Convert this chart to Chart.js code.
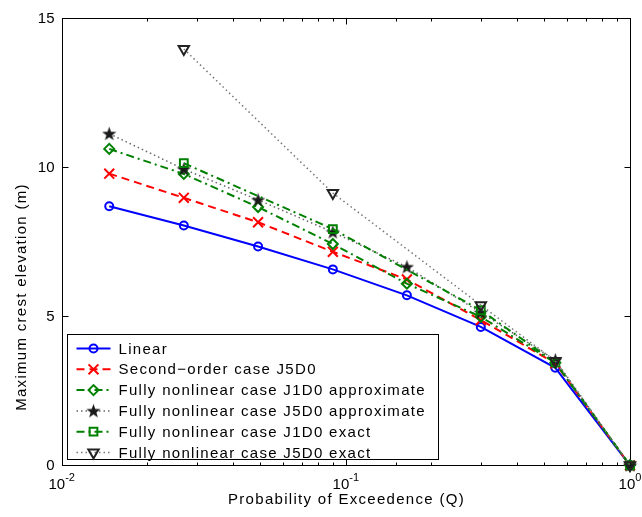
<!DOCTYPE html>
<html>
<head>
<meta charset="utf-8">
<script src="https://cdn.jsdelivr.net/npm/chart.js@4.4.0/dist/chart.umd.min.js"></script>
<style>
html, body { margin: 0; padding: 0; background: #fff; }
#wrap { width: 642px; height: 517px; }
</style>
</head>
<body>
<div id="wrap"><canvas id="chart"></canvas></div>
<script>
// probability of exceedence for each run
qAll = [0.0147, 0.0269, 0.0491, 0.0900, 0.164, 0.2985, 0.546, 1]
qExact = [0.0269, 0.0900, 0.2985, 0.546, 1]

// maximum crest elevation (m)
linear = [8.69, 8.04, 7.34, 6.57, 5.70, 4.64, 3.27, 0]
secondOrder = [9.78, 8.97, 8.15, 7.16, 6.23, 4.87, 3.42, 0]
j1d0Approx = [10.61, 9.77, 8.66, 7.42, 6.09, 4.98, 3.44, 0]
j5d0Approx = [11.12, 9.93, 8.90, 7.82, 6.65, 5.12, 3.53, 0]
j1d0Exact = [10.13, 7.92, 5.20, 3.45, 0]
j5d0Exact = [13.96, 9.13, 5.37, 3.50, 0]

seriesNames = ["Linear", "Second\u2212order case J5D0", "Fully nonlinear case J1D0 approximate",
	"Fully nonlinear case J5D0 approximate", "Fully nonlinear case J1D0 exact", "Fully nonlinear case J5D0 exact"]

xTitle = "Probability of Exceedence (Q)"
yTitle = "Maximum crest elevation (m)"
xTickValues = [0.01, 0.1, 1]
xTickExponents = ["-2", "-1", "0"]
yTickValues = [0, 5, 10, 15]

FONT = "'Liberation Sans', Arial, Helvetica, sans-serif"
SPACING = "1.3px"

function pairs(xs, ys) {
	var out = []
	for (var i = 0; i < xs.length; i++) out.push({x: xs[i], y: ys[i]})
	return out
}

// filled pentagram marker
function starImage(size, color) {
	var c = document.createElement("canvas")
	c.width = size; c.height = size
	var g = c.getContext("2d")
	g.fillStyle = color
	g.beginPath()
	for (var i = 0; i < 10; i++) {
		var r = i % 2 ? size * 0.2 : size * 0.5
		var a = -Math.PI / 2 + i * Math.PI / 5
		g.lineTo(size / 2 + r * Math.cos(a), size / 2 + 0.5 + r * Math.sin(a))
	}
	g.closePath()
	g.fill()
	return c
}

var star = starImage(15, "#1a1a1a")
var none = "rgba(0,0,0,0)"

function series(i, xs, ys, color, dash, width, style, radius, rot, fill) {
	return {
		label: seriesNames[i],
		data: pairs(xs, ys),
		borderColor: color,
		borderWidth: width,
		borderDash: dash,
		backgroundColor: fill || none,
		pointStyle: style,
		pointRadius: radius,
		pointRotation: rot || 0,
		pointBorderColor: style === "triangle" ? "#222" : color,
		pointBorderWidth: 2,
		pointBackgroundColor: fill || none,
		tension: 0,
		clip: false,
		order: 6 - i
	}
}

var datasets = [
	series(0, qAll, linear, "#0000ff", [], 2, "circle", 4),
	series(1, qAll, secondOrder, "#ff0000", [8, 5], 2, "crossRot", 7),
	series(2, qAll, j1d0Approx, "#008000", [8, 4, 2, 4], 2, "rectRot", 5),
	series(3, qAll, j5d0Approx, "#666666", [1.5, 3], 1.5, star, 7),
	series(4, qExact, j1d0Exact, "#008000", [8, 4, 2, 4], 2, "rect", 5.5),
	series(5, qExact, j5d0Exact, "#777777", [1.5, 3], 1.5, "triangle", 6, 180)
]

// axes box with inward ticks on all four sides, tick labels and titles
var boxPlugin = {
	id: "box",
	beforeDatasetsDraw: function (chart) {
		var ctx = chart.ctx, a = chart.chartArea, xs = chart.scales.x, ys = chart.scales.y
		ctx.save()
		ctx.strokeStyle = "#000"
		ctx.lineWidth = 1
		var L = Math.round(a.left) + 0.5, R = Math.round(a.right) + 0.5
		var T = Math.round(a.top) + 0.5, B = Math.round(a.bottom) + 0.5
		ctx.strokeRect(L, T, R - L, B - T)
		ctx.beginPath()
		xs.ticks.forEach(function (t) {
			var lg = Math.log10(t.value)
			var major = Math.abs(lg - Math.round(lg)) < 1e-6
			var len = major ? 6 : 3
			var px = Math.round(xs.getPixelForValue(t.value)) + 0.5
			ctx.moveTo(px, B); ctx.lineTo(px, B - len)
			ctx.moveTo(px, T); ctx.lineTo(px, T + len)
		})
		yTickValues.forEach(function (v) {
			var py = Math.round(ys.getPixelForValue(v)) + 0.5
			ctx.moveTo(L, py); ctx.lineTo(L + 6, py)
			ctx.moveTo(R, py); ctx.lineTo(R - 6, py)
		})
		ctx.stroke()

		ctx.fillStyle = "#000"
		ctx.textBaseline = "alphabetic"
		ctx.letterSpacing = "0px"
		// y tick labels
		ctx.font = "15px " + FONT
		ctx.textAlign = "right"
		ctx.textBaseline = "middle"
		yTickValues.forEach(function (v) {
			ctx.fillText(String(v), L - 8, ys.getPixelForValue(v) + 1)
		})
		// x tick labels as powers of ten
		ctx.textBaseline = "alphabetic"
		ctx.textAlign = "left"
		xTickValues.forEach(function (v, i) {
			var px = xs.getPixelForValue(v)
			ctx.font = "15px " + FONT
			var wb = ctx.measureText("10").width
			ctx.font = "11px " + FONT
			var we = ctx.measureText(xTickExponents[i]).width
			var x0 = px - (wb + we) / 2
			ctx.font = "15px " + FONT
			ctx.fillText("10", x0, B + 23)
			ctx.font = "11px " + FONT
			ctx.fillText(xTickExponents[i], x0 + wb, B + 15)
		})
		// axis titles
		ctx.font = "15px " + FONT
		ctx.letterSpacing = SPACING
		ctx.textAlign = "center"
		ctx.fillText(xTitle, (L + R) / 2, 504)
		ctx.save()
		ctx.translate(26, 297)
		ctx.rotate(-Math.PI / 2)
		ctx.fillText(yTitle, 0, 0)
		ctx.restore()
		ctx.restore()
	}
}

// legend box in the lower left of the plot
var legendPlugin = {
	id: "boxLegend",
	afterDraw: function (chart) {
		var ctx = chart.ctx, a = chart.chartArea
		var left = Math.round(a.left) + 5.5, top = 334.5, w = 371, h = 125
		ctx.save()
		ctx.fillStyle = "#fff"
		ctx.fillRect(left, top, w, h)
		ctx.strokeStyle = "#000"
		ctx.lineWidth = 1
		ctx.strokeRect(left, top, w, h)
		chart.data.datasets.forEach(function (ds, i) {
			var y = top + 14 + i * 20.8
			ctx.save()
			ctx.strokeStyle = ds.borderColor
			ctx.lineWidth = ds.borderWidth
			ctx.setLineDash(ds.borderDash)
			ctx.beginPath()
			ctx.moveTo(left + 9, y); ctx.lineTo(left + 43, y)
			ctx.stroke()
			ctx.setLineDash([])
			ctx.strokeStyle = ds.pointBorderColor
			ctx.fillStyle = ds.pointBackgroundColor
			ctx.lineWidth = 2
			Chart.helpers.drawPoint(ctx, {
				pointStyle: ds.pointStyle, rotation: ds.pointRotation,
				radius: ds.pointRadius, borderWidth: 2
			}, left + 26, y)
			ctx.restore()
			ctx.fillStyle = "#000"
			ctx.font = "15px " + FONT
			ctx.letterSpacing = SPACING
			ctx.textAlign = "left"
			ctx.textBaseline = "middle"
			ctx.fillText(ds.label, left + 51, y + 1)
		})
		ctx.restore()
	}
}

new Chart(document.getElementById("chart"), {
	type: "line",
	data: {datasets: datasets},
	plugins: [boxPlugin, legendPlugin],
	options: {
		responsive: true,
		maintainAspectRatio: false,
		animation: false,
		layout: {padding: {left: 0, right: 12, top: 18, bottom: 0}},
		plugins: {legend: {display: false}, tooltip: {enabled: false}},
		scales: {
			x: {
				type: "logarithmic",
				min: 0.01,
				max: 1,
				grid: {display: false},
				border: {display: false},
				ticks: {display: false},
				afterFit: function (s) { s.height = 51.7 }
			},
			y: {
				min: 0,
				max: 15,
				afterBuildTicks: function (s) { s.ticks = yTickValues.map(function (v) { return {value: v} }) },
				grid: {display: false, drawTicks: false},
				border: {display: false},
				ticks: {display: false},
				afterFit: function (s) { s.width = 61.7 }
			}
		}
	}
})
</script>
</body>
</html>
